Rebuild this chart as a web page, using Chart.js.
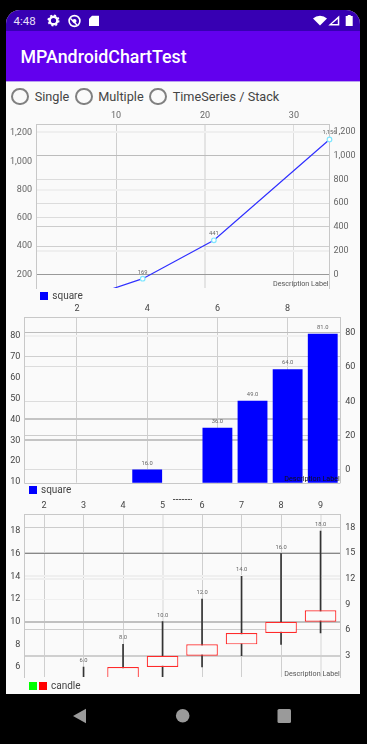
<!DOCTYPE html>
<html>
<head>
<meta charset="utf-8">
<title>MPAndroidChartTest</title>
<script src="https://cdn.jsdelivr.net/npm/chart.js@4/dist/chart.umd.min.js"></script>
<style>
    html, body { margin: 0; padding: 0; background: #000; }
    body { width: 367px; height: 744px; position: relative; overflow: hidden; font-family: Roboto, sans-serif; }
    #screen { position: absolute; left: 6px; top: 10px; width: 354px; height: 684px; background: #fafafa; border-radius: 14px 14px 0 0; overflow: hidden; }
    #status { position: absolute; left: 0; top: 0; width: 354px; height: 21px; background: #3700b3; }
    #appbar { position: absolute; left: 0; top: 21px; width: 354px; height: 50px; background: #6200ee; border-bottom: 1px solid #b9a0f0; }
    .abs { position: absolute; white-space: nowrap; }
    #time { left: 7.5px; top: 4px; font-size: 11.5px; line-height: 14px; color: #e8e0f8; }
    #title { left: 14.5px; top: 36px; font-size: 17.8px; line-height: 22px; font-weight: 500; color: #fff; }
    .radio { position: absolute; top: 87.7px; width: 13.5px; height: 13.5px; border: 2px solid #808080; border-radius: 50%; }
    .radioText { position: absolute; top: 88px; font-size: 12.7px; line-height: 17px; color: #444; white-space: nowrap; }
    canvas { position: absolute; }
    .legendBox { position: absolute; width: 7.5px; height: 7.5px; }
    .legendText { position: absolute; font-size: 10px; line-height: 12px; color: #444; white-space: nowrap; }
    #smudge { position: absolute; left: 173px; top: 499px; width: 19px; height: 1px; background: repeating-linear-gradient(90deg, #555 0 2px, #bbb 2px 3px); }
    svg { position: absolute; left: 0; top: 0; }
</style>
</head>
<body>
<div id="screen">
    <div id="status"><span class="abs" id="time">4:48</span></div>
    <div id="appbar"></div>
    <span class="abs" id="title">MPAndroidChartTest</span>
</div>
<div class="radio" style="left:11.3px"></div><span class="radioText" style="left:34.7px">Single</span>
<div class="radio" style="left:75px"></div><span class="radioText" style="left:98.3px">Multiple</span>
<div class="radio" style="left:149.3px"></div><span class="radioText" style="left:172.7px">TimeSeries / Stack</span>

<canvas id="lineChart" style="left:6px;top:105px" width="354" height="190"></canvas>
<canvas id="barChart" style="left:6px;top:300px" width="354" height="190"></canvas>
<canvas id="candleChart" style="left:6px;top:495px" width="354" height="190"></canvas>

<div class="legendBox" style="left:40px;top:292px;background:#0000ff"></div><span class="legendText" style="left:52.3px;top:290px">square</span>
<div class="legendBox" style="left:29px;top:486px;background:#0000ff"></div><span class="legendText" style="left:41px;top:484px">square</span>
<div class="legendBox" style="left:29px;top:682px;background:#00ff00"></div>
<div class="legendBox" style="left:39px;top:682px;background:#ff0000"></div><span class="legendText" style="left:51px;top:680px">candle</span>
<div id="smudge"></div>

<svg width="367" height="744" viewBox="0 0 367 744">
    <g fill="#fff">
        <circle cx="53.5" cy="20.5" r="3.8" fill="none" stroke="#fff" stroke-width="2.4"/>
        <circle cx="53.5" cy="20.5" r="5.3" fill="none" stroke="#fff" stroke-width="1.5" stroke-dasharray="2 2.16"/>
        <circle cx="74.5" cy="21" r="5.4" fill="none" stroke="#fff" stroke-width="1.6"/>
        <path d="M71 18l6.5 6.5-1 1L70 19z"/>
        <circle cx="74.5" cy="21" r="2"/>
        <path d="M92 15.7h7v10.3h-10v-7.3z"/>
        <path d="M313 18.5a10 10 0 0 1 14 0l-7 7z"/>
        <path d="M339.3 15.5v10h-11zM337.8 19l-6 5h6z" fill-rule="evenodd"/>
        <path d="M347.7 15h3v1h2v10h-7v-10h2z"/>
    </g>
    <g fill="#9a9a9a">
        <path d="M86 708.7v14.6l-13-7.3z"/>
        <circle cx="182.7" cy="715.7" r="6.8"/>
        <rect x="277.5" y="709" width="13.5" height="14" rx="1.5"/>
    </g>
</svg>

<script>
    // chart 1 - line
    const lineX = [1, 2, 3, 5, 8, 13, 21, 34];
    const lineY = [1, 4, 9, 25, 64, 169, 441, 1156];
    const lineLeftTicks = [200, 400, 600, 800, 1000, 1200];
    const lineRightTicks = [0, 200, 400, 600, 800, 1000, 1200];

    // chart 2 - bars, x = 5 has no bar in the picture
    const barLabels = ["1", "2", "3", "4", "5", "6", "7", "8", "9"];
    const barValues = [1, 4, 9, 16, null, 36, 49, 64, 81];
    const barLeftTicks = [10, 20, 30, 40, 50, 60, 70, 80];
    const barRightTicks = [0, 20, 40, 60, 80];

    // chart 3 - candles
    const candleLabels = ["2", "3", "4", "5", "6", "7", "8", "9"];
    const candleOpen = [3, 4, 5, 6, 7, 8, 9, 10];
    const candleClose = [4, 5, 6, 7, 8, 9, 10, 11];
    const candleLow = [2, 3, 4, 5, 6, 7, 8, 9];
    const candleHigh = [4, 6, 8, 10, 12, 14, 16, 18];
    const candleLeftTicks = [6, 8, 10, 12, 14, 16, 18];
    const candleRightTicks = [3, 6, 9, 12, 15, 18];

    Chart.defaults.font.family = "Roboto, sans-serif";
    Chart.defaults.font.size = 9;
    Chart.defaults.animation = false;
    Chart.defaults.responsive = false;

    const borderColor = "#c8c8c8";

    // value text above marks, description text in the lower right corner
    const labelPlugin = {
        id: "labelPlugin",
        afterDatasetsDraw(chart) {
            const ctx = chart.ctx;
            const area = chart.chartArea;
            ctx.save();
            ctx.textAlign = "center";
            ctx.textBaseline = "middle";
            ctx.font = "5.8px Roboto, sans-serif";
            ctx.fillStyle = "#666";
            chart.data.datasets.forEach((dataset, i) => {
                if (!dataset.valueText) return;
                chart.getDatasetMeta(i).data.forEach((el, j) => {
                    const text = dataset.valueText[j];
                    if (text === null || el.y < area.top || el.y > area.bottom) return;
                    if (el.x < area.left || el.x > area.right + 1) return;
                    ctx.fillText(text, el.x, el.y - 6.4);
                });
            });
            const o = chart.options.plugins.labelPlugin;
            ctx.textAlign = "right";
            ctx.font = "7.2px Roboto, sans-serif";
            ctx.fillStyle = o.descColor;
            ctx.fillText("Description Label", area.right + o.descX, area.bottom - o.descY);
            if (o.bottomBorder) {
                ctx.strokeStyle = borderColor;
                ctx.lineWidth = 1;
                ctx.beginPath();
                ctx.moveTo(area.left, Math.round(area.bottom) + 0.5);
                ctx.lineTo(area.right, Math.round(area.bottom) + 0.5);
                ctx.stroke();
            }
            ctx.restore();
        }
    };

    function gridFrom(shades) {
        return {
            drawTicks: false,
            offset: false,
            color: (c) => (shades[c.tick.value] || ["rgba(0,0,0,0)", 1])[0],
            lineWidth: (c) => (shades[c.tick.value] || ["rgba(0,0,0,0)", 1])[1]
        };
    }

    function yAxis(position, width, min, max, tickValues, shades, padding, color) {
        return {
            type: "linear",
            position: position,
            min: min,
            max: max,
            grid: gridFrom(shades),
            border: { display: true, color: borderColor },
            afterBuildTicks: (s) => { s.ticks = tickValues.map((v) => ({ value: v })); },
            afterFit: (s) => { s.width = width; s.paddingTop = 0; s.paddingBottom = 0; },
            ticks: {
                padding: padding,
                autoSkip: false,
                color: color,
                callback: (v) => v.toLocaleString("en-US")
            }
        };
    }

    function xAxisExtras(height, shades, padding, color) {
        return {
            position: "top",
            grid: gridFrom(shades),
            border: { display: true, color: borderColor },
            afterFit: (s) => { s.height = height; s.paddingLeft = 0; s.paddingRight = 0; },
            ticks: { padding: padding, autoSkip: false, maxRotation: 0, color: color, stepSize: 10, includeBounds: false }
        };
    }

    new Chart(document.getElementById("lineChart"), {
        type: "line",
        plugins: [labelPlugin],
        data: {
            datasets: [{
                label: "square",
                data: lineX.map((x, i) => ({ x: x, y: lineY[i] })),
                yAxisID: "y",
                borderColor: "#3030ff",
                borderWidth: 1.2,
                tension: 0,
                pointRadius: 2.3,
                pointBorderWidth: 1.2,
                pointBorderColor: "#7fe6ff",
                pointBackgroundColor: "#fff",
                clip: { left: 0, top: 0, right: 4, bottom: 0 },
                valueText: lineY.map((v) => v.toLocaleString("en-US"))
            }]
        },
        options: {
            layout: { padding: { left: 0, right: 0, top: 0, bottom: 7 } },
            plugins: {
                legend: { display: false },
                tooltip: { enabled: false },
                labelPlugin: { descX: -1, descY: 4, descColor: "#555", bottomBorder: false }
            },
            scales: {
                x: Object.assign(xAxisExtras(19.5, {
                    10: ["#cfcfcf", 1], 20: ["#e4e4e4", 2], 30: ["#dcdcdc", 1]
                }, 3.5, "#666"), { type: "linear", min: 1, max: 34 }),
                y: yAxis("left", 30, 103, 1262, lineLeftTicks, {
                    800: ["#f0f0f0", 2], 600: ["#dcdcdc", 1], 400: ["#cfcfcf", 1], 200: ["#999", 1]
                }, 4, "#666"),
                y2: yAxis("right", 30.5, -115, 1264, lineRightTicks, {
                    1200: ["#efefef", 2], 1000: ["#bcbcbc", 1], 800: ["#dcdcdc", 1], 600: ["#dcdcdc", 1],
                    400: ["#cccccc", 1], 200: ["#efefef", 2], 0: ["#999", 1]
                }, 4, "#666")
            }
        }
    });

    new Chart(document.getElementById("barChart"), {
        type: "bar",
        plugins: [labelPlugin],
        data: {
            labels: barLabels,
            datasets: [{
                label: "square",
                data: barValues,
                yAxisID: "y",
                backgroundColor: "#0000ff",
                barPercentage: 0.85,
                categoryPercentage: 1,
                valueText: barValues.map((v) => (v === null ? null : v.toFixed(1)))
            }]
        },
        options: {
            layout: { padding: { left: 0, right: 0, top: 0, bottom: 7.3 } },
            plugins: {
                legend: { display: false },
                tooltip: { enabled: false },
                labelPlugin: { descX: -0.5, descY: 4, descColor: "#111", bottomBorder: true }
            },
            scales: {
                x: Object.assign(xAxisExtras(17.3, {
                    1: ["#cfcfcf", 1], 3: ["#cfcfcf", 1], 5: ["#cfcfcf", 1], 7: ["#cfcfcf", 1]
                }, 3, "#444"), {
                    type: "category",
                    offset: true,
                    afterBuildTicks: (s) => { s.ticks = s.ticks.filter((t) => t.value % 2 === 1); }
                }),
                y: yAxis("left", 18.3, 9.7, 88.9, barLeftTicks, {
                    80: ["#f0f0f0", 2], 70: ["#cfcfcf", 1], 40: ["#c4c4c4", 2], 30: ["#c4c4c4", 2]
                }, 4, "#444"),
                y2: yAxis("right", 19.7, -7.4, 88.9, barRightTicks, {
                    80: ["#bcbcbc", 1], 60: ["#dcdcdc", 1], 40: ["#dcdcdc", 1], 20: ["#cccccc", 1], 0: ["#dcdcdc", 1]
                }, 5, "#444")
            }
        }
    });

    new Chart(document.getElementById("candleChart"), {
        type: "bar",
        plugins: [labelPlugin],
        data: {
            labels: candleLabels,
            datasets: [{
                label: "candle",
                data: candleOpen.map((v, i) => [v, candleClose[i]]),
                yAxisID: "y",
                grouped: false,
                order: 1,
                backgroundColor: "#fafafa",
                borderColor: "#ff2a2a",
                borderWidth: 1.2,
                borderSkipped: false,
                barPercentage: 0.8,
                categoryPercentage: 1
            }, {
                label: "shadow",
                data: candleLow.map((v, i) => [v, candleHigh[i]]),
                yAxisID: "y",
                grouped: false,
                order: 2,
                backgroundColor: "#333",
                barThickness: 1,
                valueText: candleHigh.map((v) => v.toFixed(1))
            }]
        },
        options: {
            layout: { padding: { left: 0, right: 0, top: 0, bottom: 8 } },
            plugins: {
                legend: { display: false },
                tooltip: { enabled: false },
                labelPlugin: { descX: -0.5, descY: 3, descColor: "#555", bottomBorder: false }
            },
            scales: {
                x: Object.assign(xAxisExtras(19, {
                    0: ["#cfcfcf", 1], 1: ["#cfcfcf", 1], 2: ["#cfcfcf", 1], 3: ["#e8e8e8", 2],
                    4: ["#cfcfcf", 1], 5: ["#cfcfcf", 1], 6: ["#cfcfcf", 1], 7: ["#e8e8e8", 2]
                }, 3, "#444"), { type: "category", offset: true }),
                y: yAxis("left", 18.3, 5.12, 19.5, candleLeftTicks, {
                    16: ["#888", 1], 14: ["#efefef", 2], 12: ["#efefef", 1], 10: ["#c0c0c0", 2]
                }, 4, "#444"),
                y2: yAxis("right", 19.7, 0.5, 19.56, candleRightTicks, {
                    18: ["#cccccc", 1], 15: ["#d0d0d0", 1], 12: ["#efefef", 2], 6: ["#cccccc", 1], 3: ["#cfcfcf", 2]
                }, 5, "#444")
            }
        }
    });
</script>
</body>
</html>
